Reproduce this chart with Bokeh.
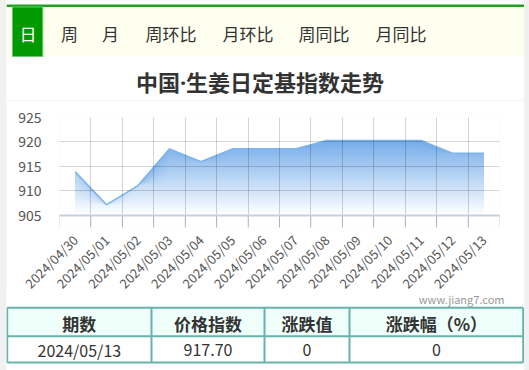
import math
import numpy as np
from bokeh.plotting import figure
from bokeh.layouts import column
from bokeh.models import Range1d, LinearAxis, FixedTicker, Grid, Span
from bokeh.core.properties import value
from bokeh.embed import file_html
from bokeh.resources import INLINE

# ---------------- data ----------------
dates = ["2024/04/30", "2024/05/01", "2024/05/02", "2024/05/03", "2024/05/04",
         "2024/05/05", "2024/05/06", "2024/05/07", "2024/05/08", "2024/05/09",
         "2024/05/10", "2024/05/11", "2024/05/12", "2024/05/13"]
index_values = [913.9, 907.2, 911.1, 918.6, 916.0, 918.6, 918.6,
                918.6, 920.3, 920.3, 920.3, 920.3, 917.7, 917.7]
y_ticks = [905, 910, 915, 920, 925]
tabs = ["日", "周", "月", "周环比", "月环比", "周同比", "月同比"]
title_text = "中国·生姜日定基指数走势"
table_headers = ["期数", "价格指数", "涨跌值", "涨跌幅（%）"]
watermark = "www.jiang7.com"

FONT_NAME = "Noto Sans CJK SC"
FONT = value(FONT_NAME)
TITLE_FONT = value("'Noto Sans', 'Noto Sans CJK SC'")
TXT = "#333333"

def base_fig(height, y0, y1, margin_top=0):
    f = figure(width=518, height=height, x_range=Range1d(6, 524), y_range=Range1d(y1, y0),
               x_axis_type=None, y_axis_type=None, output_backend="svg",
               toolbar_location=None, min_border=0, outline_line_color=None,
               background_fill_color="white", border_fill_color="white",
               margin=(margin_top, 5, 0, 6), frame_align=False)
    return f

# ---------------- header (tabs + title) ----------------
hdr = base_fig(100, 0, 100)
hdr.quad(left=6, right=523.5, top=6.3, bottom=56, fill_color="#fffff0", line_color=None)
hdr.quad(left=6, right=523.5, top=4, bottom=6.5, fill_color="#1fa21f", line_color=None)
hdr.quad(left=12, right=42.3, top=6.5, bottom=56, fill_color="#009900", line_color="#66cc66", line_width=1)
tab_x = [27.5, 69, 110, 170.5, 247.5, 323.5, 400.5]
tab_colors = ["white"] + [TXT] * (len(tabs) - 1)
hdr.text(x=tab_x, y=[32.5] * len(tabs), text=tabs, text_color=tab_colors,
         text_font=FONT, text_font_size="17px", text_align="center", text_baseline="middle")
hdr.text(x=[259.5], y=[81], text=[title_text], text_color=TXT, text_font=TITLE_FONT,
         text_font_size="22px", text_font_style="bold", text_align="center", text_baseline="middle")

# ---------------- chart ----------------
n = len(dates)
xs = np.arange(n)
vals = np.array(index_values)
y_lo = 902.55
ch = figure(width=518, height=201, x_range=Range1d(-0.5, n - 0.5), y_range=Range1d(y_lo, 925),
            x_axis_type=None, y_axis_type=None, output_backend="svg", toolbar_location=None,
            min_border_left=53, min_border_right=25, min_border_top=17, min_border_bottom=74,
            outline_line_color=None, background_fill_color="white", border_fill_color="white",
            margin=(0, 5, 0, 6), frame_align=False)

# gradient fill under the line: opaque bands, drawn from the top level down
base_rgb = np.array([0x4b, 0x93, 0xe3])
levels = np.linspace(905, vals.max(), 41)
for lo, hi in reversed(list(zip(levels[:-1], levels[1:]))):
    a = ((lo + hi) / 2 - 905) / 20
    rgb = (255 * (1 - a) + base_rgb * a).round().astype(int)
    col = "#%02x%02x%02x" % tuple(rgb)
    ch.varea(x=xs, y1=[905] * n, y2=np.minimum(vals, hi), fill_color=col)
ch.line(x=xs, y=vals, line_color="#7cb5ec", line_width=1.5)

bounds = [i - 0.5 for i in range(n + 1)]
ch.add_layout(Grid(dimension=0, ticker=FixedTicker(ticks=bounds), grid_line_color="black",
                   grid_line_alpha=0.17, grid_line_width=1, level="annotation"))
ch.add_layout(Grid(dimension=1, ticker=FixedTicker(ticks=y_ticks), grid_line_color="black",
                   grid_line_alpha=0.17, grid_line_width=1, level="annotation"))

# tick marks below the 905 axis line, at category boundaries
ch.segment(x0=bounds, y0=[y_lo] * len(bounds), x1=bounds, y1=[905] * len(bounds),
           line_color="#ccd6eb", line_width=1)
ch.add_layout(Span(location=905, dimension="width", line_color="#c3cedf", line_width=2))

ax_labels = LinearAxis(ticker=FixedTicker(ticks=list(range(n)), minor_ticks=[]),
                       major_label_overrides={i: d for i, d in enumerate(dates)},
                       major_label_orientation=math.pi / 4, major_tick_line_color=None,
                       axis_line_color=None, major_label_standoff=4,
                       major_label_text_font=FONT_NAME, major_label_text_font_size="13px",
                       major_label_text_color="#555555")
ch.add_layout(ax_labels, "below")
yax = LinearAxis(ticker=FixedTicker(ticks=y_ticks, minor_ticks=[]), major_tick_line_color=None,
                 axis_line_color=None, major_label_standoff=12, major_label_text_font=FONT_NAME,
                 major_label_text_font_size="14px", major_label_text_color="#555555")
ch.add_layout(yax, "left")

# ---------------- table (overlaps the empty bottom of the chart block) ----------------
tb = base_fig(80, 290, 370, margin_top=-11)
tb.text(x=[504], y=[298], text=[watermark], text_color="#999999", text_font=FONT,
        text_font_size="11px", text_align="right", text_baseline="middle")
edges = [6.7, 151, 264, 349, 522.7]
top, mid, bot = 307.3, 335.7, 362
tb.quad(left=edges[0], right=edges[-1], top=top, bottom=mid, fill_color="#effffa", line_color=None)
border = "#66b3ab"
tb.segment(x0=[edges[0], edges[0], edges[0]], y0=[top, mid, bot],
           x1=[edges[-1], edges[-1], edges[-1]], y1=[top, mid, bot], line_color=border, line_width=2)
tb.segment(x0=edges, y0=[top] * len(edges), x1=edges, y1=[bot] * len(edges), line_color=border, line_width=2)
centers = [(a + b) / 2 for a, b in zip(edges[:-1], edges[1:])]
change = round(index_values[-1] - index_values[-2], 2)
pct = round(change / index_values[-2] * 100, 2)
fmt = lambda v: "0" if v == 0 else f"{v:.2f}"
row = [dates[-1], f"{index_values[-1]:.2f}", fmt(change), fmt(pct)]
tb.text(x=centers, y=[322.5] * 4, text=table_headers, text_color=TXT, text_font=FONT,
        text_font_size="17px", text_font_style="bold", text_align="center", text_baseline="middle")
tb.text(x=centers, y=[349] * 4, text=row, text_color=TXT, text_font=FONT,
        text_font_size="16px", text_align="center", text_baseline="middle")

layout = column(hdr, ch, tb, spacing=0, styles={"background-color": "#f1f1f1"})
open("out.html", "w").write(file_html(layout, INLINE))
